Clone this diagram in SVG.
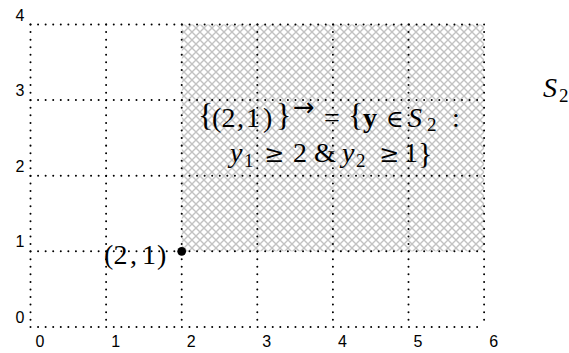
<svg xmlns="http://www.w3.org/2000/svg" width="569" height="353" viewBox="0 0 569 353">
<style>
.grid{stroke:#000;stroke-width:2;stroke-linecap:round;stroke-dasharray:0.01 7.56;fill:none}
.ax{font-family:"Liberation Sans",Arial,sans-serif;font-size:16px;fill:#000}
.m{font-family:"Liberation Serif","DejaVu Serif",serif;font-size:28px;fill:#000}
.it{font-style:italic}
.sub{font-size:19px}
.br{font-size:32px}
.rel{font-family:"DejaVu Serif",serif;font-size:24px}
</style>
<defs>
<pattern id="hatch" patternUnits="userSpaceOnUse" width="8" height="8">
<path d="M-1,-1 L9,9 M-1,9 L9,-1" stroke="#c2c2c2" stroke-width="1.4" fill="none"/>
</pattern>
</defs>
<rect id="region" x="181.7" y="24.5" width="302.4" height="226.8" fill="url(#hatch)"/>
<g id="grid">
<path class="grid" d="M30.5,24.5H484.1M30.5,100.1H484.1M30.5,175.7H484.1M30.5,251.3H484.1M30.5,326.9H484.1"/>
<path class="grid" d="M30.5,24.5V326.9M106.1,24.5V326.9M181.7,24.5V326.9M257.3,24.5V326.9M332.9,24.5V326.9M408.5,24.5V326.9M484.1,24.5V326.9"/>
</g>
<g id="axis-labels">
<text class="ax" text-anchor="end" x="24.5" y="20.5">4</text>
<text class="ax" text-anchor="end" x="24.5" y="96">3</text>
<text class="ax" text-anchor="end" x="24.5" y="171.7">2</text>
<text class="ax" text-anchor="end" x="24.5" y="247.3">1</text>
<text class="ax" text-anchor="end" x="24.5" y="322.9">0</text>
<text class="ax" text-anchor="middle" x="40" y="347">0</text>
<text class="ax" text-anchor="middle" x="115.6" y="347">1</text>
<text class="ax" text-anchor="middle" x="191.2" y="347">2</text>
<text class="ax" text-anchor="middle" x="266.8" y="347">3</text>
<text class="ax" text-anchor="middle" x="342.4" y="347">4</text>
<text class="ax" text-anchor="middle" x="418" y="347">5</text>
<text class="ax" text-anchor="middle" x="493.6" y="347">6</text>
</g>
<g id="point">
<circle cx="181.7" cy="251.3" r="4.4" fill="#000"/>
<text class="m" y="264"><tspan x="104">(</tspan><tspan x="113.5">2</tspan><tspan x="130">,</tspan><tspan x="142">1</tspan><tspan x="157">)</tspan></text>
</g>
<g id="set-label">
<text class="m" y="127"><tspan class="br" x="198" y="126">{</tspan><tspan x="212" y="127">(</tspan><tspan x="221.5">2</tspan><tspan x="237">,</tspan><tspan x="246">1</tspan><tspan x="263">)</tspan><tspan class="br" x="276" y="126">}</tspan><tspan x="293" y="116" style="font-family:'DejaVu Sans',sans-serif;font-size:26px">→</tspan><tspan x="324" y="127">=</tspan><tspan class="br" x="348" y="126">{</tspan><tspan x="363" y="127" font-weight="bold">y</tspan><tspan class="rel" x="386">∈</tspan><tspan class="it" x="408">S</tspan><tspan class="sub" x="427" y="131">2</tspan><tspan x="452" y="127">:</tspan></text>
<text class="m" y="162"><tspan class="it" x="230">y</tspan><tspan class="sub" x="244" y="167">1</tspan><tspan class="rel" x="264" y="162">≥</tspan><tspan x="293">2</tspan><tspan x="314">&amp;</tspan><tspan class="it" x="342">y</tspan><tspan class="sub" x="356" y="167">2</tspan><tspan class="rel" x="379" y="162">≥</tspan><tspan x="404">1</tspan><tspan x="418" y="163" style="font-size:30px">}</tspan></text>
</g>
<g id="space-label">
<text class="m"><tspan class="it" x="543" y="97">S</tspan><tspan class="sub" x="559" y="102">2</tspan></text>
</g>
</svg>
